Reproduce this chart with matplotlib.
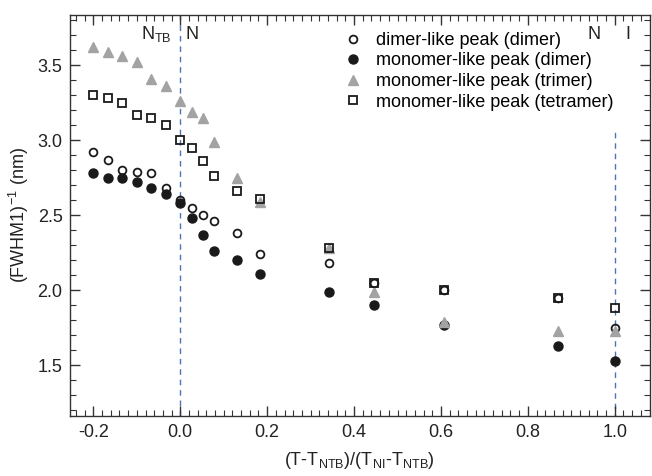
import numpy as np
import matplotlib
matplotlib.use('Agg')
import matplotlib.pyplot as plt
from matplotlib.ticker import MultipleLocator, FormatStrFormatter

plt.rcParams['font.family'] = ['Liberation Sans', 'DejaVu Sans']
plt.rcParams['mathtext.fontset'] = 'custom'
plt.rcParams['mathtext.rm'] = 'Liberation Sans'
plt.rcParams['mathtext.it'] = 'Liberation Sans:italic'
plt.rcParams['mathtext.bf'] = 'Liberation Sans:bold'

# reduced temperature (shared by all series)
x = [-0.200, -0.167, -0.134, -0.100, -0.068, -0.034, 0.000, 0.027, 0.052,
     0.078, 0.131, 0.183, 0.342, 0.446, 0.606, 0.869, 1.000]

dimer_open = [2.92, 2.87, 2.80, 2.79, 2.78, 2.68, 2.60, 2.55, 2.50,
              2.46, 2.38, 2.24, 2.18, 2.05, 2.00, 1.95, 1.75]
dimer_filled = [2.78, 2.75, 2.75, 2.72, 2.68, 2.64, 2.58, 2.48, 2.37,
                2.26, 2.20, 2.11, 1.99, 1.90, 1.77, 1.63, 1.53]
trimer = [3.62, 3.59, 3.56, 3.52, 3.41, 3.36, 3.26, 3.19, 3.15,
          2.99, 2.75, 2.59, 2.28, 1.99, 1.79, 1.73, 1.73]
tetramer = [3.30, 3.28, 3.25, 3.17, 3.15, 3.10, 3.00, 2.95, 2.86,
            2.76, 2.66, 2.61, 2.28, 2.05, 2.00, 1.95, 1.88]

fig = plt.figure(figsize=(6.52, 4.76), dpi=100)
ax = fig.add_axes([69.5 / 652, 1 - 416 / 476, 580 / 652, 401 / 476])

dash_col = '#4d72b8'
ax.axvline(0.0, color=dash_col, lw=1.0, ls=(0, (4, 3.5)), zorder=1)
ax.plot([1.0, 1.0], [1.0, 3.08], color=dash_col, lw=1.0, ls=(0, (4, 3.5)), zorder=1)

ax.plot(x, dimer_filled, 'o', ms=6.5, color='#1a1a1a', mec='#1a1a1a',
        label='monomer-like peak (dimer)', zorder=3)
ax.plot(x, dimer_open, 'o', ms=5.6, mfc='none', mec='#1a1a1a', mew=1.3,
        label='dimer-like peak (dimer)', zorder=4)
ax.plot(x, trimer, '^', ms=7.5, color='#a3a3a3', mec='#a3a3a3',
        label='monomer-like peak (trimer)', zorder=5)
ax.plot(x, tetramer, 's', ms=5.3, mfc='none', mec='#1a1a1a', mew=1.3,
        label='monomer-like peak (tetramer)', zorder=6)

h, l = ax.get_legend_handles_labels()
order = [1, 0, 2, 3]
ax.legend([h[i] for i in order], [l[i] for i in order], loc='upper left',
          bbox_to_anchor=(0.455, 0.985), frameon=False, fontsize=13,
          handlelength=1.0, handletextpad=0.75, labelspacing=0.2,
          borderaxespad=0.2)

txt_col = '#222222'
ax.text(-0.02, 3.705, r'N$_{\mathrm{TB}}$', ha='right', va='center', fontsize=13, color=txt_col)
ax.text(0.012, 3.705, 'N', ha='left', va='center', fontsize=13, color=txt_col)
ax.text(0.952, 3.705, 'N', ha='center', va='center', fontsize=13, color=txt_col)
ax.text(1.03, 3.705, 'I', ha='center', va='center', fontsize=13, color=txt_col)

ax.set_xlim(-0.255, 1.08)
ax.set_ylim(1.16, 3.835)
ax.xaxis.set_major_locator(MultipleLocator(0.2))
ax.xaxis.set_minor_locator(MultipleLocator(0.02))
ax.yaxis.set_major_locator(MultipleLocator(0.5))
ax.yaxis.set_minor_locator(MultipleLocator(0.1))
ax.xaxis.set_major_formatter(FormatStrFormatter('%.1f'))
ax.yaxis.set_major_formatter(FormatStrFormatter('%.1f'))
ax.tick_params(which='both', direction='in', top=True, right=True,
               color='#333333', labelsize=13, labelcolor=txt_col)
ax.tick_params(which='major', length=7, width=1.0)
ax.tick_params(which='minor', length=4, width=0.8)
ax.tick_params(axis='x', which='major', pad=6)
ax.tick_params(axis='y', which='major', pad=5)
for s in ax.spines.values():
    s.set_color('#333333')
    s.set_linewidth(1.0)

ax.set_xlabel(r'(T-T$_{\mathrm{NTB}}$)/(T$_{\mathrm{NI}}$-T$_{\mathrm{NTB}}$)',
              fontsize=13, color=txt_col, labelpad=6)
ax.set_ylabel(r'(FWHM1)$^{\mathrm{-1}}$ (nm)', fontsize=13, color=txt_col, labelpad=5)

fig.savefig('out.png', dpi=100)
